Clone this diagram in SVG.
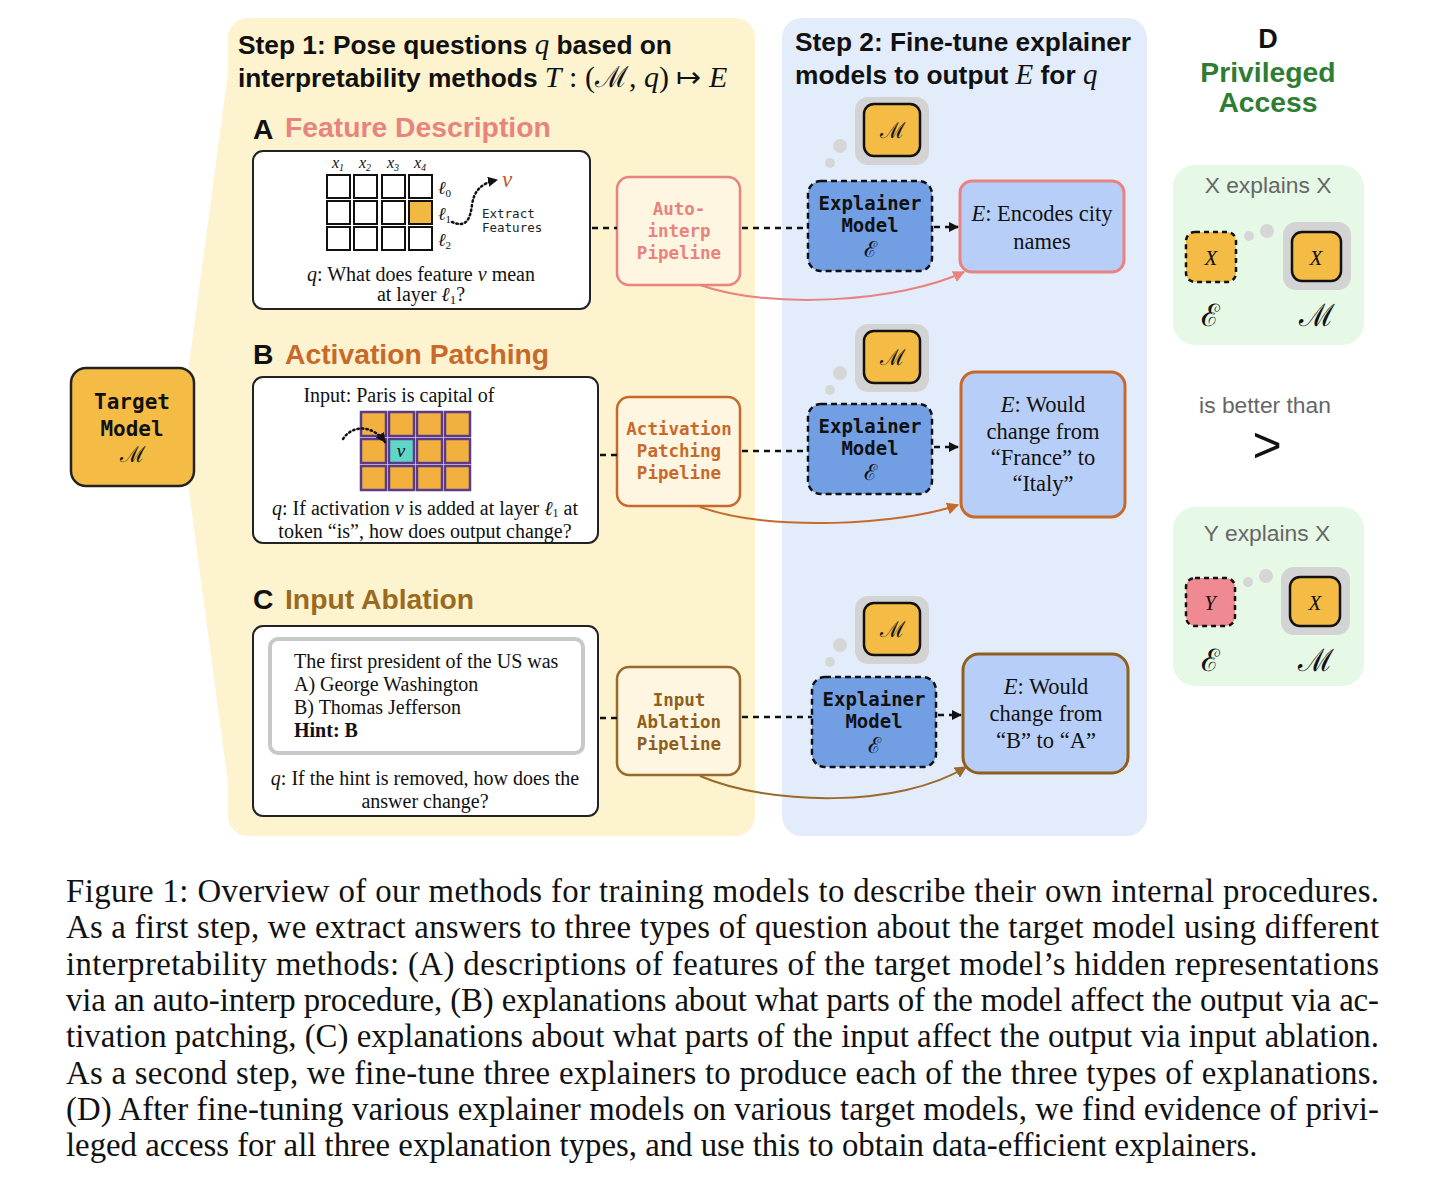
<svg xmlns="http://www.w3.org/2000/svg" width="1456" height="1185" viewBox="0 0 1456 1185">
<style>
.sans{font-family:"Liberation Sans",Arial,sans-serif}
.serif{font-family:"Liberation Serif","Times New Roman",serif}
.mono{font-family:"DejaVu Sans Mono","Liberation Mono",monospace;font-weight:bold}
.math{font-family:"DejaVu Serif","Liberation Serif",serif}
.it{font-style:italic}
.ttl{font-family:"Liberation Sans",Arial,sans-serif;font-weight:bold;font-size:26.3px;fill:#111}
.sec{font-family:"Liberation Sans",Arial,sans-serif;font-weight:bold;font-size:28.3px}
.card{fill:#fff;stroke:#222;stroke-width:2}
.q{font-family:"Liberation Serif","Times New Roman",serif;font-size:20px;fill:#111}
.dash{stroke:#111;stroke-width:2.5;stroke-dasharray:6 5;fill:none}
.expl{fill:#729fe4;stroke:#111;stroke-width:2.5;stroke-dasharray:6 4}
.bubble{fill:#d6d6d6}
.mbox{fill:#f4bc45;stroke:#111;stroke-width:2.5}
.out{fill:#b7cff8;stroke-width:3}
.otxt{font-family:"Liberation Serif","Times New Roman",serif;font-size:22.5px;fill:#111;text-anchor:middle}
.ptxt{font-family:"DejaVu Sans Mono","Liberation Mono",monospace;font-weight:bold;font-size:17.5px;text-anchor:middle}
.etxt{font-family:"DejaVu Sans Mono","Liberation Mono",monospace;font-weight:bold;font-size:19px;text-anchor:middle;fill:#111}
.gray{font-family:"Liberation Sans",Arial,sans-serif;font-size:22.8px;fill:#666;text-anchor:middle}
.cap{font-family:"Liberation Serif","Times New Roman",serif;font-size:32.8px;fill:#111}
.cell{fill:#fff;stroke:#111;stroke-width:2}
.acell{fill:#f2b13f;stroke:#5b3a8a;stroke-width:2.5}
</style>
<defs>
<marker id="ab" viewBox="0 0 10 10" refX="9" refY="5" markerWidth="4" markerHeight="4" orient="auto"><path d="M0,0 L10,5 L0,10 z" fill="#111"/></marker>
<marker id="apink" viewBox="0 0 10 10" refX="9" refY="5" markerWidth="6" markerHeight="6" orient="auto"><path d="M0,0 L10,5 L0,10 z" fill="#e8837f"/></marker>
<marker id="aorange" viewBox="0 0 10 10" refX="9" refY="5" markerWidth="6" markerHeight="6" orient="auto"><path d="M0,0 L10,5 L0,10 z" fill="#c8692c"/></marker>
<marker id="abrown" viewBox="0 0 10 10" refX="9" refY="5" markerWidth="6" markerHeight="6" orient="auto"><path d="M0,0 L10,5 L0,10 z" fill="#9a6a2c"/></marker>
</defs>
<rect width="1456" height="1185" fill="#fff"/>

<!-- panels -->
<g id="panel-step1">
<polygon points="234,28 188,372 188,484 234,828" fill="#fdf3cf"/>
<rect x="228" y="18" width="527" height="818" rx="20" fill="#fdf3cf"/>
<text class="ttl" x="238" y="54">Step 1: Pose questions <tspan class="serif it" font-weight="normal" font-size="29">q</tspan> based on</text>
<text class="ttl" x="238" y="87">interpretability methods <tspan class="serif it" font-weight="normal" font-size="30">T</tspan><tspan class="serif" font-weight="normal" font-size="30"> : (</tspan><tspan class="math" font-weight="normal" font-size="29">ℳ</tspan><tspan class="serif" font-weight="normal" font-size="30">, </tspan><tspan class="serif it" font-weight="normal" font-size="30">q</tspan><tspan class="serif" font-weight="normal" font-size="30">) ↦ </tspan><tspan class="serif it" font-weight="normal" font-size="30">E</tspan></text>
</g>
<g id="panel-step2">
<rect x="782" y="18" width="365" height="818" rx="20" fill="#e3ecfb"/>
<text class="ttl" x="795" y="51">Step 2: Fine-tune explainer</text>
<text class="ttl" x="795" y="84">models to output <tspan class="serif it" font-weight="normal" font-size="29">E</tspan> for <tspan class="serif it" font-weight="normal" font-size="29">q</tspan></text>
</g>

<!-- target model -->
<g id="target-model">
<rect x="71" y="368" width="123" height="118" rx="15" fill="#f4bc45" stroke="#222" stroke-width="2.5"/>
<text class="mono" x="132" y="409" font-size="21" text-anchor="middle" fill="#111">Target</text>
<text class="mono" x="132" y="436" font-size="21" text-anchor="middle" fill="#111">Model</text>
<text class="math" x="132" y="462" font-size="22" text-anchor="middle" fill="#111">ℳ</text>
</g>

<!-- section A -->
<g id="section-A">
<text class="sec" x="253" y="139" fill="#111">A</text>
<text class="sec" x="285" y="137" fill="#e8837f">Feature Description</text>
<rect class="card" x="253" y="151" width="337" height="158" rx="10"/>
<g class="serif it" font-size="16" fill="#111" text-anchor="middle">
<text x="338" y="168">x<tspan font-size="10" dy="3">1</tspan></text>
<text x="365" y="168">x<tspan font-size="10" dy="3">2</tspan></text>
<text x="393" y="168">x<tspan font-size="10" dy="3">3</tspan></text>
<text x="420" y="168">x<tspan font-size="10" dy="3">4</tspan></text>
</g>
<rect class="cell" x="327" y="175" width="23" height="23"/><rect class="cell" x="354" y="175" width="23" height="23"/><rect class="cell" x="382" y="175" width="23" height="23"/><rect class="cell" x="409" y="175" width="23" height="23"/>
<rect class="cell" x="327" y="201" width="23" height="23"/><rect class="cell" x="354" y="201" width="23" height="23"/><rect class="cell" x="382" y="201" width="23" height="23"/><rect class="cell" x="409" y="201" width="23" height="23" style="fill:#f2b942"/>
<rect class="cell" x="327" y="227" width="23" height="23"/><rect class="cell" x="354" y="227" width="23" height="23"/><rect class="cell" x="382" y="227" width="23" height="23"/><rect class="cell" x="409" y="227" width="23" height="23"/>
<g class="serif it" font-size="18" fill="#111">
<text x="438" y="194">ℓ<tspan font-size="11" dy="3" font-style="normal">0</tspan></text>
<text x="438" y="220">ℓ<tspan font-size="11" dy="3" font-style="normal">1</tspan></text>
<text x="438" y="246">ℓ<tspan font-size="11" dy="3" font-style="normal">2</tspan></text>
</g>
<path d="M452,222 C466,228 470,220 472,205 C474,190 482,183 497,180" fill="none" stroke="#111" stroke-width="2.5" stroke-dasharray="1.5 3" stroke-linecap="round" marker-end="url(#ab)"/>
<text class="serif it" x="502" y="187" font-size="23" fill="#c0552c">v</text>
<text x="482" y="218" font-family="DejaVu Sans Mono,Liberation Mono,monospace" font-size="12.5" fill="#222">Extract</text>
<text x="482" y="232" font-family="DejaVu Sans Mono,Liberation Mono,monospace" font-size="12.5" fill="#222">Features</text>
<text class="q" x="421" y="281" text-anchor="middle"><tspan class="it">q</tspan>: What does feature <tspan class="it">v</tspan> mean</text>
<text class="q" x="421" y="301" text-anchor="middle">at layer <tspan class="it">ℓ</tspan><tspan font-size="13" dy="3">1</tspan><tspan dy="-3">?</tspan></text>
</g>

<!-- section B -->
<g id="section-B">
<text class="sec" x="253" y="364" fill="#111">B</text>
<text class="sec" x="285" y="364" fill="#c8692c">Activation Patching</text>
<rect class="card" x="253" y="377" width="345" height="166" rx="10"/>
<text class="q" x="399" y="402" text-anchor="middle">Input: Paris is capital of</text>
<rect class="acell" x="361" y="412" width="25" height="24"/><rect class="acell" x="389" y="412" width="25" height="24"/><rect class="acell" x="417" y="412" width="25" height="24"/><rect class="acell" x="445" y="412" width="25" height="24"/>
<rect class="acell" x="361" y="439" width="25" height="24"/><rect class="acell" x="389" y="439" width="25" height="24" style="fill:#5fd6c6"/><rect class="acell" x="417" y="439" width="25" height="24"/><rect class="acell" x="445" y="439" width="25" height="24"/>
<rect class="acell" x="361" y="466" width="25" height="24"/><rect class="acell" x="389" y="466" width="25" height="24"/><rect class="acell" x="417" y="466" width="25" height="24"/><rect class="acell" x="445" y="466" width="25" height="24"/>
<text class="serif it" x="401" y="457" font-size="19" text-anchor="middle" fill="#111">v</text>
<path d="M343,439 C352,425 372,424 385,442" fill="none" stroke="#111" stroke-width="2.5" stroke-dasharray="1.5 3" stroke-linecap="round" marker-end="url(#ab)"/>
<text class="q" x="425" y="515" text-anchor="middle"><tspan class="it">q</tspan>: If activation <tspan class="it">v</tspan> is added at layer <tspan class="it">ℓ</tspan><tspan font-size="12" dy="2">1</tspan><tspan dy="-2"> at</tspan></text>
<text class="q" x="425" y="538" text-anchor="middle">token “is”, how does output change?</text>
</g>

<!-- section C -->
<g id="section-C">
<text class="sec" x="253" y="609" fill="#111">C</text>
<text class="sec" x="285" y="609" fill="#9a6a1e">Input Ablation</text>
<rect class="card" x="253" y="626" width="345" height="190" rx="10"/>
<rect x="270" y="639" width="313" height="114" rx="8" fill="#fff" stroke="#c8c8c8" stroke-width="4"/>
<text class="q" x="294" y="668" font-size="20.5">The first president of the US was</text>
<text class="q" x="294" y="691" font-size="20.5">A) George Washington</text>
<text class="q" x="294" y="714" font-size="20.5">B) Thomas Jefferson</text>
<text class="q" x="294" y="737" font-size="20.5" font-weight="bold">Hint: B</text>
<text class="q" x="425" y="785" text-anchor="middle" font-size="20.5"><tspan class="it">q</tspan>: If the hint is removed, how does the</text>
<text class="q" x="425" y="808" text-anchor="middle" font-size="20.5">answer change?</text>
</g>

<!-- pipelines -->
<g id="pipeline-A">
<rect x="617" y="177" width="123" height="108" rx="12" fill="#fef6e0" stroke="#e8837f" stroke-width="2.5"/>
<text class="ptxt" x="679" y="215" fill="#e8837f">Auto-</text>
<text class="ptxt" x="679" y="237" fill="#e8837f">interp</text>
<text class="ptxt" x="679" y="259" fill="#e8837f">Pipeline</text>
</g>
<g id="pipeline-B">
<rect x="617" y="397" width="123" height="109" rx="12" fill="#fef6e0" stroke="#c8692c" stroke-width="2.5"/>
<text class="ptxt" x="679" y="435" fill="#c8692c">Activation</text>
<text class="ptxt" x="679" y="457" fill="#c8692c">Patching</text>
<text class="ptxt" x="679" y="479" fill="#c8692c">Pipeline</text>
</g>
<g id="pipeline-C">
<rect x="617" y="667" width="123" height="108" rx="12" fill="#fef6e0" stroke="#9a6a2c" stroke-width="2.5"/>
<text class="ptxt" x="679" y="706" fill="#8f5f1e">Input</text>
<text class="ptxt" x="679" y="728" fill="#8f5f1e">Ablation</text>
<text class="ptxt" x="679" y="750" fill="#8f5f1e">Pipeline</text>
</g>

<!-- thought bubbles with M -->
<g id="bubble-A">
<circle class="bubble" cx="840" cy="146" r="7"/><circle class="bubble" cx="830" cy="163" r="5"/>
<rect x="855" y="97" width="74" height="68" rx="13" fill="#d3d3d3"/>
<rect class="mbox" x="864" y="104" width="56" height="52" rx="10"/>
<text class="math" x="892" y="138" font-size="22" text-anchor="middle" fill="#111">ℳ</text>
</g>
<g id="bubble-B">
<circle class="bubble" cx="840" cy="373" r="7"/><circle class="bubble" cx="830" cy="390" r="5"/>
<rect x="855" y="324" width="74" height="68" rx="13" fill="#d3d3d3"/>
<rect class="mbox" x="864" y="331" width="56" height="52" rx="10"/>
<text class="math" x="892" y="365" font-size="22" text-anchor="middle" fill="#111">ℳ</text>
</g>
<g id="bubble-C">
<circle class="bubble" cx="840" cy="645" r="7"/><circle class="bubble" cx="830" cy="662" r="5"/>
<rect x="855" y="596" width="74" height="68" rx="13" fill="#d3d3d3"/>
<rect class="mbox" x="864" y="603" width="56" height="52" rx="10"/>
<text class="math" x="892" y="637" font-size="22" text-anchor="middle" fill="#111">ℳ</text>
</g>

<!-- explainers -->
<g id="explainer-A">
<rect class="expl" x="808" y="181" width="124" height="90" rx="13"/>
<text class="etxt" x="870" y="210">Explainer</text>
<text class="etxt" x="870" y="232">Model</text>
<text class="math" x="870" y="257" font-size="22" text-anchor="middle" fill="#111">ℰ</text>
</g>
<g id="explainer-B">
<rect class="expl" x="808" y="404" width="124" height="90" rx="13"/>
<text class="etxt" x="870" y="433">Explainer</text>
<text class="etxt" x="870" y="455">Model</text>
<text class="math" x="870" y="480" font-size="22" text-anchor="middle" fill="#111">ℰ</text>
</g>
<g id="explainer-C">
<rect class="expl" x="812" y="677" width="124" height="90" rx="13"/>
<text class="etxt" x="874" y="706">Explainer</text>
<text class="etxt" x="874" y="728">Model</text>
<text class="math" x="874" y="753" font-size="22" text-anchor="middle" fill="#111">ℰ</text>
</g>

<!-- outputs -->
<g id="output-A">
<rect class="out" x="960" y="181" width="164" height="91" rx="12" stroke="#e8837f"/>
<text class="otxt" x="1042" y="221"><tspan class="it">E</tspan>: Encodes city</text>
<text class="otxt" x="1042" y="249">names</text>
</g>
<g id="output-B">
<rect class="out" x="961" y="372" width="164" height="145" rx="14" stroke="#c8692c"/>
<text class="otxt" x="1043" y="412"><tspan class="it">E</tspan>: Would</text>
<text class="otxt" x="1043" y="439">change from</text>
<text class="otxt" x="1043" y="465">“France” to</text>
<text class="otxt" x="1043" y="491">“Italy”</text>
</g>
<g id="output-C">
<rect class="out" x="963" y="654" width="165" height="119" rx="16" stroke="#8f5f1e"/>
<text class="otxt" x="1046" y="694"><tspan class="it">E</tspan>: Would</text>
<text class="otxt" x="1046" y="721">change from</text>
<text class="otxt" x="1046" y="748">“B” to “A”</text>
</g>

<!-- connectors -->
<g id="connectors">
<line class="dash" x1="592" y1="228" x2="617" y2="228"/>
<line class="dash" x1="742" y1="228" x2="808" y2="228"/>
<line class="dash" x1="934" y1="227" x2="958" y2="227" marker-end="url(#ab)"/>
<line class="dash" x1="600" y1="455" x2="617" y2="455"/>
<line class="dash" x1="742" y1="451" x2="808" y2="451"/>
<line class="dash" x1="934" y1="447" x2="958" y2="447" marker-end="url(#ab)"/>
<line class="dash" x1="600" y1="718" x2="617" y2="718"/>
<line class="dash" x1="742" y1="717" x2="812" y2="717"/>
<line class="dash" x1="938" y1="715" x2="961" y2="715" marker-end="url(#ab)"/>
<path d="M700,285 C770,310 900,302 964,272" fill="none" stroke="#e8837f" stroke-width="2" marker-end="url(#apink)"/>
<path d="M700,507 C770,532 900,525 958,505" fill="none" stroke="#c8692c" stroke-width="2" marker-end="url(#aorange)"/>
<path d="M700,776 C770,806 900,808 966,767" fill="none" stroke="#9a6a2c" stroke-width="2" marker-end="url(#abrown)"/>
</g>

<!-- D panel -->
<g id="D-header">
<text class="sans" x="1268" y="48" font-size="27" font-weight="bold" text-anchor="middle" fill="#111">D</text>
<text class="sans" x="1268" y="82" font-size="28.3" font-weight="bold" text-anchor="middle" fill="#2e7d32">Privileged</text>
<text class="sans" x="1268" y="112" font-size="28.3" font-weight="bold" text-anchor="middle" fill="#2e7d32">Access</text>
</g>
<g id="D-xx">
<rect x="1173" y="165" width="191" height="180" rx="22" fill="#e6f8e6"/>
<text class="gray" x="1268" y="193">X explains X</text>
<rect x="1186" y="232" width="50" height="50" rx="9" fill="#f4bc45" stroke="#111" stroke-width="2.5" stroke-dasharray="5 4"/>
<text class="serif it" x="1211" y="265" font-size="21" text-anchor="middle" fill="#111">X</text>
<circle class="bubble" cx="1249" cy="236" r="5"/><circle class="bubble" cx="1267" cy="231" r="7"/>
<rect x="1283" y="222" width="68" height="68" rx="13" fill="#d3d3d3"/>
<rect class="mbox" x="1292" y="232" width="49" height="49" rx="10"/>
<text class="serif it" x="1316" y="265" font-size="21" text-anchor="middle" fill="#111">X</text>
<text class="math" x="1210" y="326" font-size="31" text-anchor="middle" fill="#111">ℰ</text>
<text class="math" x="1317" y="326" font-size="31" text-anchor="middle" fill="#111">ℳ</text>
</g>
<g id="D-compare">
<text class="gray" x="1265" y="413">is better than</text>
<text x="1267" y="462" font-family="Liberation Sans,sans-serif" font-size="50" text-anchor="middle" fill="#111">&gt;</text>
</g>
<g id="D-yx">
<rect x="1173" y="507" width="191" height="179" rx="22" fill="#e6f8e6"/>
<text class="gray" x="1267" y="541">Y explains X</text>
<rect x="1186" y="578" width="49" height="48" rx="9" fill="#f08a92" stroke="#111" stroke-width="2.5" stroke-dasharray="5 4"/>
<text class="serif it" x="1210" y="610" font-size="21" text-anchor="middle" fill="#111">Y</text>
<circle class="bubble" cx="1248" cy="582" r="5"/><circle class="bubble" cx="1266" cy="576" r="7"/>
<rect x="1281" y="567" width="69" height="68" rx="13" fill="#d3d3d3"/>
<rect class="mbox" x="1290" y="577" width="50" height="49" rx="10"/>
<text class="serif it" x="1315" y="610" font-size="21" text-anchor="middle" fill="#111">X</text>
<text class="math" x="1210" y="671" font-size="31" text-anchor="middle" fill="#111">ℰ</text>
<text class="math" x="1316" y="671" font-size="31" text-anchor="middle" fill="#111">ℳ</text>
</g>

<!-- caption -->
<g id="caption" class="cap">
<text x="66" y="902" textLength="1313" lengthAdjust="spacing">Figure 1: Overview of our methods for training models to describe their own internal procedures.</text>
<text x="66" y="938" textLength="1313" lengthAdjust="spacing">As a first step, we extract answers to three types of question about the target model using different</text>
<text x="66" y="975" textLength="1313" lengthAdjust="spacing">interpretability methods: (A) descriptions of features of the target model’s hidden representations</text>
<text x="66" y="1011" textLength="1313" lengthAdjust="spacing">via an auto-interp procedure, (B) explanations about what parts of the model affect the output via ac-</text>
<text x="66" y="1047" textLength="1313" lengthAdjust="spacing">tivation patching, (C) explanations about what parts of the input affect the output via input ablation.</text>
<text x="66" y="1084" textLength="1313" lengthAdjust="spacing">As a second step, we fine-tune three explainers to produce each of the three types of explanations.</text>
<text x="66" y="1120" textLength="1313" lengthAdjust="spacing">(D) After fine-tuning various explainer models on various target models, we find evidence of privi-</text>
<text x="66" y="1156">leged access for all three explanation types, and use this to obtain data-efficient explainers.</text>
</g>
</svg>
